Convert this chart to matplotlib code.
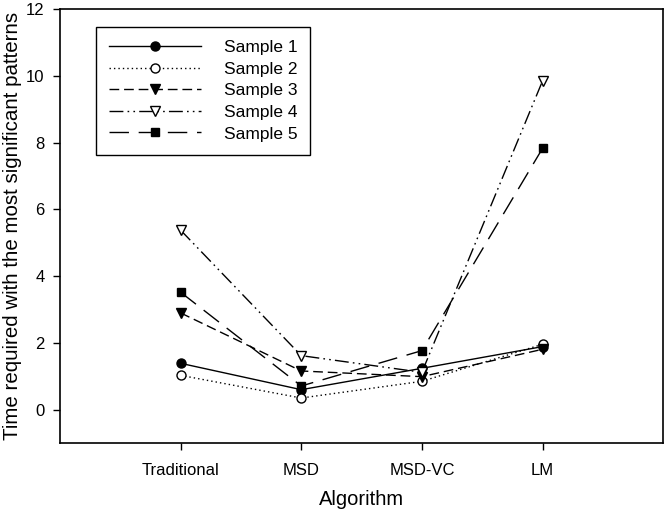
import matplotlib
matplotlib.use("Agg")
import matplotlib.pyplot as plt

plt.rcParams['font.family'] = ['Liberation Sans', 'DejaVu Sans']

algorithms = ["Traditional", "MSD", "MSD-VC", "LM"]
sample_1 = [1.39, 0.60, 1.24, 1.89]
sample_2 = [1.03, 0.35, 0.85, 1.96]
sample_3 = [2.90, 1.16, 0.99, 1.81]
sample_4 = [5.38, 1.62, 1.12, 9.85]
sample_5 = [3.52, 0.71, 1.77, 7.83]
series_names = ["Sample 1", "Sample 2", "Sample 3", "Sample 4", "Sample 5"]
y_ticks = [0, 2, 4, 6, 8, 10, 12]

fig = plt.figure(figsize=(6.65, 5.14), dpi=100)
ax = fig.add_axes([0.0902, 0.138, 0.907, 0.844])

x = list(range(1, len(algorithms) + 1))
styles = [
    dict(linestyle='-', marker='o', mfc='black', ms=6.5),
    dict(linestyle=(0, (1, 2.2)), marker='o', mfc='white', ms=6.5),
    dict(linestyle=(0, (7, 3.5)), marker='v', mfc='black', ms=7.5),
    dict(linestyle=(0, (10, 3, 1.2, 3, 1.2, 3)), marker='v', mfc='white', ms=7.5),
    dict(linestyle=(0, (14, 7)), marker='s', mfc='black', ms=6),
]
for vals, name, st in zip([sample_1, sample_2, sample_3, sample_4, sample_5], series_names, styles):
    ax.plot(x, vals, color='black', lw=1.0, mec='black', mew=1.0, label=name, **st)

ax.set_xlim(0, 5)
ax.set_ylim(-1, 12)
ax.set_xticks(x)
ax.set_xticklabels(algorithms)
ax.set_yticks(y_ticks)
ax.tick_params(axis='both', direction='out', length=5, width=1, labelsize=12, pad=6)
ax.tick_params(axis='x', pad=9)
ax.tick_params(top=False, right=False)
for sp in ax.spines.values():
    sp.set_linewidth(1.2)

ax.set_xlabel("Algorithm", fontsize=14.5, labelpad=9)
ax.set_ylabel("Time required with the most significant patterns", fontsize=14.8, labelpad=3)

leg = ax.legend(loc='upper left', bbox_to_anchor=(0.06, 0.959), borderaxespad=0,
                fontsize=12.5, handlelength=5.3, labelspacing=0.37, handletextpad=1.3,
                fancybox=False, edgecolor='black', framealpha=1, borderpad=0.75)
leg.get_frame().set_linewidth(1.0)

fig.savefig("out.png", dpi=100)
